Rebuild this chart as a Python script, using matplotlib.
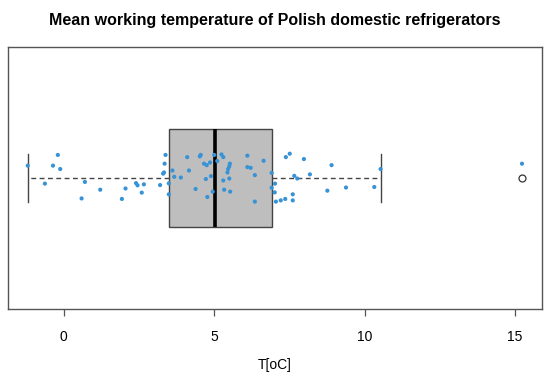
import numpy as np
import matplotlib
matplotlib.use("Agg")
import matplotlib.pyplot as plt

plt.rcParams['font.family'] = ['Liberation Sans', 'DejaVu Sans']

# mean working temperature of each fridge
temps = [-1.20, -0.63, -0.36, -0.20, -0.12, 0.59, 0.70, 1.21, 1.93, 2.05,
         2.40, 2.45, 2.59, 2.66, 3.20, 3.38, 3.35, 3.33, 3.30, 3.49,
         3.49, 3.61, 3.67, 3.89, 4.10, 4.16, 4.55, 4.52, 4.66, 4.75,
         4.86, 4.38, 4.72, 4.77, 4.89, 4.95, 5.00, 5.10, 5.24, 5.30,
         5.30, 5.33, 5.52, 5.50, 5.46, 5.44, 5.50, 5.53, 6.10, 6.10,
         6.21, 6.35, 6.35, 6.64, 6.91, 7.02, 6.91, 7.01, 7.05, 7.21,
         7.36, 7.61, 7.61, 7.38, 7.51, 7.66, 7.76, 7.98, 8.18, 8.90,
         8.76, 9.38, 10.32, 10.53, 15.23]

# vertical jitter of each point, as seen in the picture
jitter = [0.051, -0.023, 0.051, 0.095, 0.037, -0.084, -0.016, -0.048, -0.086, -0.043,
          -0.021, -0.030, -0.060, -0.026, -0.029, 0.095, 0.059, 0.023, 0.018, -0.022,
          -0.067, 0.031, 0.005, 0.002, 0.086, 0.031, 0.095, 0.089, 0.059, 0.053,
          0.064, -0.045, -0.004, -0.078, 0.008, -0.056, 0.095, 0.070, 0.097, 0.086,
          -0.010, -0.048, 0.059, 0.048, 0.037, 0.023, -0.002, -0.056, 0.092, 0.045,
          0.042, 0.012, -0.097, 0.071, 0.021, -0.023, -0.040, -0.059, -0.097, -0.092,
          -0.086, -0.092, -0.067, 0.086, 0.100, 0.009, -0.002, 0.078, 0.015, 0.053,
          -0.052, -0.039, -0.037, 0.037, 0.059]

# box summary as drawn
q1, med, q3 = 3.49, 5.02, 6.91
whis_lo, whis_hi = -1.20, 10.53
outliers = [15.23]

fig = plt.figure(figsize=(5.5, 3.8), dpi=100)
ax = fig.add_axes([0.0145, 0.186, 0.9705, 0.691])

stats = [dict(med=med, q1=q1, q3=q3, whislo=whis_lo, whishi=whis_hi, fliers=outliers)]
ax.bxp(stats, positions=[1], widths=0.4, orientation='horizontal', patch_artist=True,
       capwidths=0.2,
       boxprops=dict(facecolor='#bebebe', edgecolor='#444444', linewidth=1.0),
       medianprops=dict(color='black', linewidth=2.6, solid_capstyle='butt'),
       whiskerprops=dict(color='#444444', linestyle=(0, (3.5, 2.5)), linewidth=1.0),
       capprops=dict(color='#444444', linewidth=1.0),
       flierprops=dict(marker='o', markerfacecolor='white', markeredgecolor='#333333',
                       markersize=5, markeredgewidth=0.9))

y = 1 + np.array(jitter)
ax.scatter(temps, y, s=9, color='#3792d6', edgecolors='none', zorder=5)

lo, hi = -1.20, 15.23
pad = 0.04 * (hi - lo)
ax.set_xlim(lo - pad, hi + pad)
ax.set_ylim(0.46, 1.54)
ax.set_yticks([])
ax.set_xticks([0, 5, 10, 15])
ax.tick_params(axis='x', direction='out', length=5, width=0.9, color='#555555',
               labelsize=10, pad=10)
for s in ax.spines.values():
    s.set_color('#555555')
    s.set_linewidth(1.0)

ax.set_xlabel('T[oC]', fontsize=10, labelpad=10)
fig.suptitle('Mean working temperature of Polish domestic refrigerators',
             fontsize=11.5, fontweight='bold', y=0.965)

fig.savefig('out.png', dpi=100)
